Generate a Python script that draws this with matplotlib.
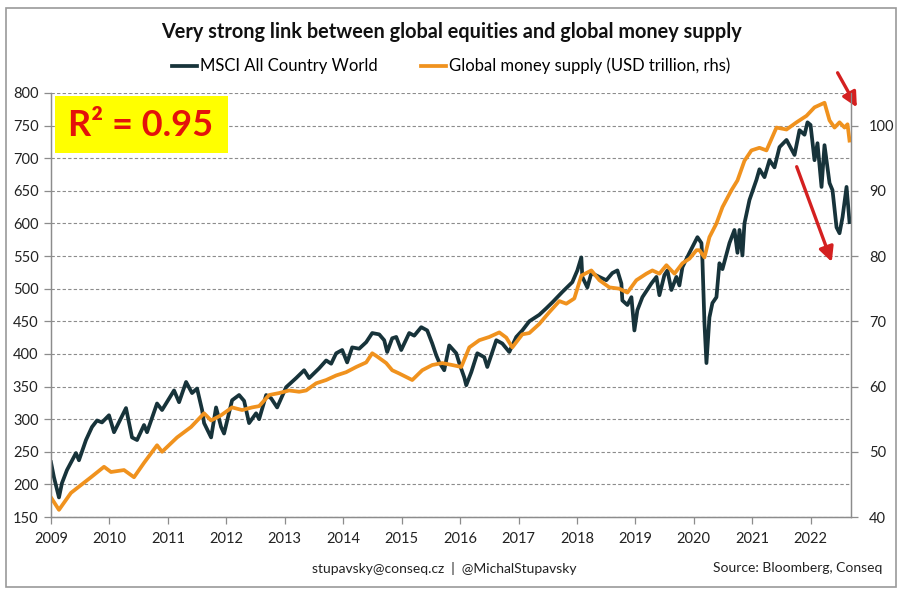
import matplotlib
matplotlib.use("Agg")
import matplotlib.pyplot as plt
from matplotlib.patches import Rectangle

# MSCI All Country World (decimal year, index level)
msci_years = [
    2009.000, 2009.051, 2009.137, 2009.188, 2009.274, 2009.428, 2009.479, 2009.599,
    2009.702, 2009.788, 2009.873, 2009.993, 2010.079, 2010.284, 2010.387, 2010.473,
    2010.592, 2010.644, 2010.815, 2010.901, 2011.106, 2011.192, 2011.312, 2011.414,
    2011.500, 2011.586, 2011.620, 2011.740, 2011.825, 2011.911, 2011.962, 2012.099,
    2012.219, 2012.305, 2012.390, 2012.510, 2012.562, 2012.682, 2012.767, 2012.870,
    2013.024, 2013.195, 2013.332, 2013.418, 2013.589, 2013.709, 2013.795, 2013.880,
    2013.983, 2014.068, 2014.154, 2014.274, 2014.394, 2014.497, 2014.616, 2014.702,
    2014.753, 2014.839, 2014.908, 2014.993, 2015.130, 2015.216, 2015.336, 2015.438,
    2015.524, 2015.592, 2015.644, 2015.729, 2015.815, 2015.935, 2015.986, 2016.072,
    2016.106, 2016.192, 2016.295, 2016.414, 2016.466, 2016.620, 2016.723, 2016.842,
    2016.962, 2017.065, 2017.185, 2017.356, 2017.476, 2017.579, 2017.750, 2017.921,
    2018.007, 2018.075, 2018.092, 2018.178, 2018.247, 2018.384, 2018.503, 2018.606,
    2018.692, 2018.760, 2018.777, 2018.863, 2018.932, 2018.983, 2019.034, 2019.120,
    2019.274, 2019.360, 2019.411, 2019.497, 2019.548, 2019.616, 2019.702, 2019.753,
    2019.805, 2019.925, 2020.062, 2020.130, 2020.147, 2020.182, 2020.216, 2020.267,
    2020.318, 2020.387, 2020.438, 2020.490, 2020.610, 2020.695, 2020.747, 2020.781,
    2020.832, 2020.866, 2020.952, 2021.072, 2021.123, 2021.209, 2021.295, 2021.380,
    2021.466, 2021.586, 2021.723, 2021.808, 2021.894, 2021.945, 2021.997, 2022.065,
    2022.116, 2022.185, 2022.236, 2022.322, 2022.373, 2022.442, 2022.493, 2022.545,
    2022.613, 2022.664,
]
msci_values = [
    234, 211, 180, 202, 222, 248, 237, 268,
    288, 298, 295, 306, 280, 317, 272, 268,
    291, 280, 324, 314, 344, 326, 357, 340,
    347, 314, 294, 272, 318, 288, 278, 329,
    337, 328, 294, 309, 300, 337, 332, 318,
    349, 363, 375, 363, 378, 390, 385, 401,
    406, 387, 410, 408, 418, 432, 430, 421,
    403, 424, 426, 406, 432, 428, 441, 436,
    416, 398, 387, 375, 413, 401, 386, 364,
    352, 372, 401, 395, 380, 421, 416, 403,
    426, 436, 450, 460, 470, 479, 495, 510,
    528, 548, 518, 502, 524, 518, 513, 524,
    528, 508, 482, 475, 487, 436, 467, 487,
    508, 518, 490, 521, 528, 498, 518, 505,
    533, 555, 579, 570, 544, 447, 386, 456,
    478, 487, 539, 530, 570, 590, 555, 590,
    551, 600, 636, 667, 683, 671, 697, 686,
    717, 728, 705, 743, 736, 755, 751, 697,
    723, 656, 720, 662, 651, 594, 585, 610,
    656, 602,
]

# Global money supply, USD trillion (right axis)
money_years = [
    2009.000, 2009.137, 2009.342, 2009.685, 2009.908, 2010.027, 2010.250, 2010.421,
    2010.592, 2010.815, 2010.901, 2011.158, 2011.397, 2011.620, 2011.740, 2011.911,
    2012.099, 2012.271, 2012.442, 2012.562, 2012.733, 2012.904, 2013.075, 2013.247,
    2013.366, 2013.538, 2013.709, 2013.880, 2014.051, 2014.223, 2014.394, 2014.497,
    2014.582, 2014.736, 2014.839, 2014.959, 2015.182, 2015.353, 2015.524, 2015.695,
    2015.866, 2016.021, 2016.158, 2016.329, 2016.500, 2016.671, 2016.791, 2016.894,
    2017.065, 2017.185, 2017.356, 2017.527, 2017.699, 2017.818, 2017.955, 2018.075,
    2018.247, 2018.384, 2018.555, 2018.726, 2018.863, 2019.017, 2019.188, 2019.291,
    2019.411, 2019.531, 2019.668, 2019.805, 2019.925, 2020.045, 2020.096, 2020.182,
    2020.267, 2020.387, 2020.490, 2020.644, 2020.747, 2020.866, 2020.986, 2021.123,
    2021.243, 2021.414, 2021.586, 2021.757, 2021.928, 2022.065, 2022.236, 2022.322,
    2022.408, 2022.493, 2022.579, 2022.630, 2022.664,
]
money_values = [
    43.0, 41.1, 43.7, 46.1, 47.7, 46.9, 47.2, 46.1,
    48.3, 51.0, 50.0, 52.2, 53.8, 55.9, 54.8, 55.6,
    56.8, 56.4, 56.8, 57.0, 58.7, 59.0, 59.4, 59.2,
    59.4, 60.5, 61.0, 61.7, 62.2, 63.0, 63.7, 65.1,
    64.6, 63.6, 62.5, 62.0, 61.0, 62.5, 63.3, 63.6,
    63.3, 63.0, 66.0, 67.1, 67.6, 68.3, 67.5, 66.0,
    68.0, 68.2, 69.6, 71.4, 73.1, 72.7, 73.5, 77.0,
    77.8, 76.3, 75.2, 75.0, 74.4, 76.3, 77.3, 77.8,
    77.3, 78.6, 77.3, 78.9, 79.6, 80.9, 80.9, 79.8,
    82.9, 85.0, 87.5, 90.1, 91.6, 94.6, 96.2, 96.6,
    96.2, 99.7, 99.4, 100.5, 101.5, 102.8, 103.5, 100.8,
    99.7, 100.5, 99.7, 100.2, 97.7,
]

year_ticks = list(range(2009, 2023))
left_ticks = list(range(150, 801, 50))
right_ticks = list(range(40, 101, 10))

msci_color = "#17333a"
money_color = "#f0921e"
grid_color = "#8c8c8c"
font = "Lato"

plt.rcParams["font.family"] = [font, "DejaVu Sans"]

fig = plt.figure(figsize=(9.02, 5.90), dpi=100)
ax = fig.add_axes([0.0565, 0.1237, 0.887, 0.7187])
ax2 = ax.twinx()

ax.plot(msci_years, msci_values, color=msci_color, lw=2.7,
        label="MSCI All Country World", solid_joinstyle="round")
ax2.plot(money_years, money_values, color=money_color, lw=2.7,
         label="Global money supply (USD trillion, rhs)", solid_joinstyle="round")

ax.set_xlim(2009, 2022.69)
ax.set_ylim(150, 800)
ax2.set_ylim(40, 105)

ax.set_xticks(year_ticks)
ax.set_xticklabels([str(y) for y in year_ticks])
ax.set_yticks(left_ticks)
ax2.set_yticks(right_ticks)

for a in (ax, ax2):
    for s in a.spines.values():
        s.set_color(grid_color)
        s.set_linewidth(0.9)
    a.spines["top"].set_visible(False)
    a.tick_params(length=5, width=0.9, color=grid_color, labelsize=10.5,
                  labelcolor="#222222", direction="out")
ax.tick_params(axis="x", pad=6)
ax.tick_params(axis="y", pad=4)
ax2.tick_params(axis="y", pad=8)

ax.grid(axis="y", color=grid_color, linestyle=(0, (3, 2)), lw=0.8)
ax.set_axisbelow(True)

# legend at top
h1, l1 = ax.get_legend_handles_labels()
h2, l2 = ax2.get_legend_handles_labels()
fig.legend(h1 + h2, l1 + l2, loc="center", bbox_to_anchor=(0.5, 0.888), ncol=2,
           frameon=False, fontsize=12, handlelength=1.5, handletextpad=0.2,
           columnspacing=2.6)

fig.text(0.5, 0.946, "Very strong link between global equities and global money supply",
         ha="center", va="center", fontsize=14.3, fontweight="bold", color="#111111")

# R² box
ax.add_patch(Rectangle((0.005, 0.858), 0.216, 0.135, transform=ax.transAxes,
                       facecolor="#ffff00", edgecolor="none", zorder=5))
ax.text(0.1125, 0.924, "R² = 0.95", transform=ax.transAxes, ha="center", va="center",
        fontsize=26, fontweight="bold", color="#e3120b", zorder=6)

# red arrows
arrow_kw = dict(arrowstyle="-|>", color="#d42020", lw=2.4, mutation_scale=22,
                shrinkA=0, shrinkB=0)
ax.annotate("", xy=(2022.36, 541), xytext=(2021.76, 687), arrowprops=arrow_kw)
ax.annotate("", xy=(2022.79, 778), xytext=(2022.46, 831), arrowprops=arrow_kw,
            annotation_clip=False)

fig.text(0.493, 0.037, "stupavsky@conseq.cz  |  @MichalStupavsky", ha="center",
         va="center", fontsize=10, color="#222222")
fig.text(0.978, 0.037, "Source: Bloomberg, Conseq", ha="right", va="center",
         fontsize=10, color="#222222")

# outer frame
fig.patches.append(Rectangle((0.007, 0.005), 0.986, 0.981, transform=fig.transFigure,
                             fill=False, edgecolor="#9a9a9a", lw=1.2))

fig.savefig("out.png", dpi=100, facecolor="white")
